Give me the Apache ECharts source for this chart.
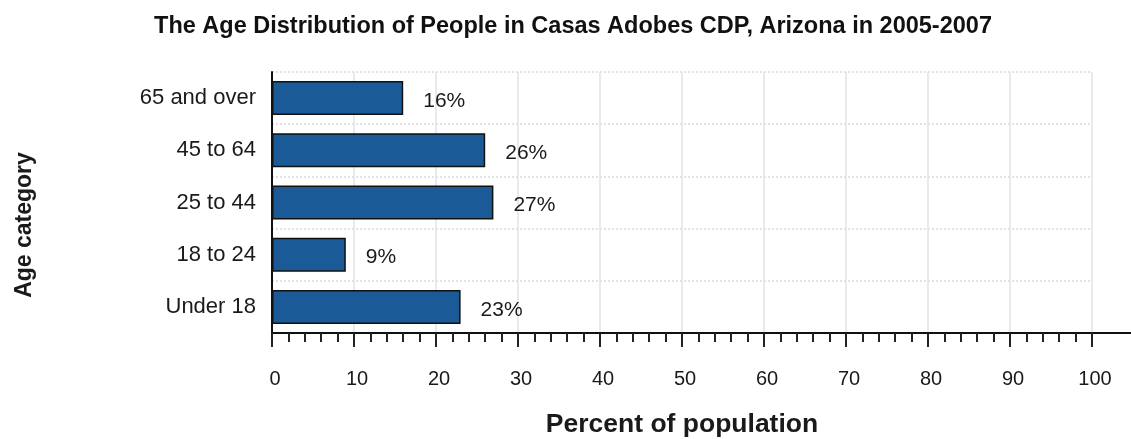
<!DOCTYPE html>
<html><head><meta charset="utf-8">
<script src="https://cdn.jsdelivr.net/npm/echarts@6/dist/echarts.min.js"></script>
<style>html,body{margin:0;padding:0;background:#fff}#c{width:1131px;height:439px}</style>
</head><body><div id="c"></div>
<script>
const title = 'The Age Distribution of People in Casas Adobes CDP, Arizona in 2005-2007';
const categories = ['Under 18', '18 to 24', '25 to 44', '45 to 64', '65 and over'];
const values = [23, 9, 27, 26, 16];
const xTicks = [0, 10, 20, 30, 40, 50, 60, 70, 80, 90, 100];
const xName = 'Percent of population';
const yName = 'Age category';

const FONT = '"Liberation Sans", Arial, sans-serif';
const chart = echarts.init(document.getElementById('c'));
chart.setOption({
  animation: false,
  title: { text: title, left: 568, textAlign: 'center', top: 10,
    textStyle: { fontFamily: FONT, fontSize: 23.5, fontWeight: 'bold', color: '#111' } },
  grid: { left: 272, right: 39, top: 72, bottom: 106, containLabel: false, outerBoundsMode: 'none' },
  xAxis: {
    type: 'value', min: xTicks[0], max: xTicks[xTicks.length - 1], interval: 10,
    name: xName, nameLocation: 'middle', nameGap: 78,
    nameTextStyle: { fontFamily: FONT, fontSize: 26.5, fontWeight: 'bold', color: '#1a1a1a' },
    axisLine: { show: true, lineStyle: { color: '#111', width: 2 } },
    axisTick: { show: true, inside: false, length: 14, lineStyle: { color: '#222', width: 2 } },
    minorTick: { show: true, splitNumber: 5, length: 9, lineStyle: { color: '#222', width: 2 } },
    axisLabel: { margin: 36, fontFamily: FONT, fontSize: 20, color: '#1a1a1a', padding: [0, 0, 0, 6] },
    splitLine: { show: true, lineStyle: { color: '#e2e2ea', width: 1.5 } }
  },
  yAxis: {
    type: 'category', data: categories,
    axisLine: { show: true, lineStyle: { color: '#111', width: 2 } },
    axisTick: { show: false },
    axisLabel: { margin: 16, fontFamily: FONT, fontSize: 22, color: '#1a1a1a' },
    splitLine: { show: true, lineStyle: { color: '#d8d8e0', width: 1.5, type: [2, 2] } }
  },
  series: [{
    type: 'bar', data: values, barWidth: 34,
    itemStyle: { color: '#1a5a96', borderColor: '#111', borderWidth: 1.5 },
    label: { show: true, position: 'right', distance: 20, offset: [0, 3],
      formatter: p => p.value + '%',
      fontFamily: FONT, fontSize: 21, color: '#1a1a1a' }
  }],
  graphic: [{
    type: 'line', shape: { x1: 1092, y1: 333, x2: 1131, y2: 333 },
    style: { stroke: '#111', lineWidth: 2 }
  }, {
    type: 'text', x: 25, y: 225, rotation: Math.PI / 2,
    style: { text: yName, font: 'bold 23px ' + FONT, fill: '#1a1a1a', textAlign: 'center', textVerticalAlign: 'middle' }
  }]
});
</script></body></html>
